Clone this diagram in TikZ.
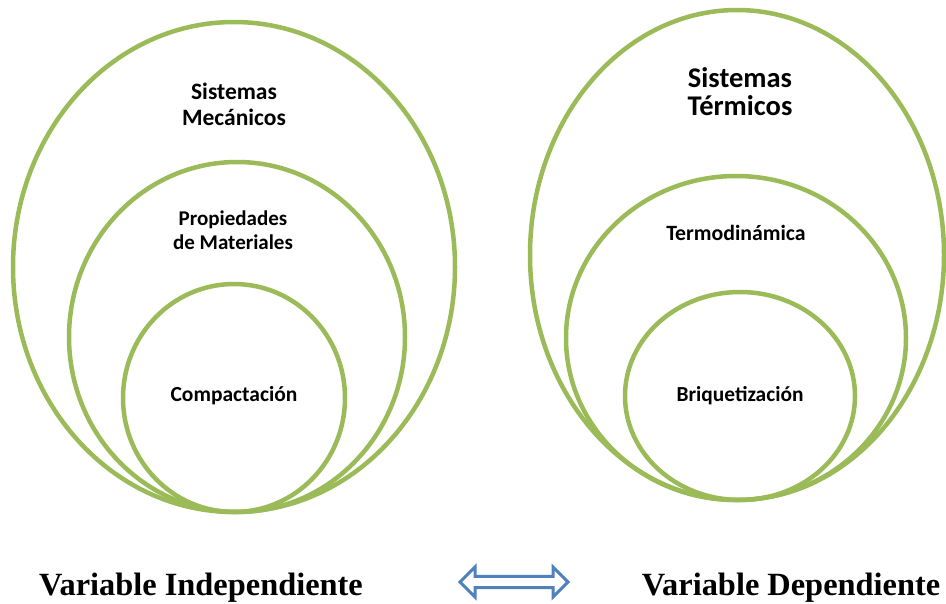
\documentclass[tikz,border=0pt]{standalone}
\usepackage{fontspec}
\setmainfont{Carlito}
\newfontfamily\timesfont{Liberation Serif}
\usetikzlibrary{shapes.arrows}
\definecolor{ringgreen}{HTML}{9BBB59}
\definecolor{arrowblue}{HTML}{4F81BD}
\begin{document}
\begin{tikzpicture}[x=1pt,y=-1pt,
  ring/.style={draw=ringgreen,line width=4.5pt},
  lbl/.style={align=center, inner sep=0pt},
  bottomlbl/.style={font=\timesfont\bfseries\fontsize{32.4}{36}\selectfont, anchor=base}]
\useasboundingbox (0,0) rectangle (946,603);
% left group
\draw[ring] (234,267) ellipse [x radius=221, y radius=245];
\draw[ring] (237,337) ellipse [x radius=168, y radius=175];
\draw[ring] (234,398) ellipse [x radius=111, y radius=114];
% right group
\draw[ring] (737,255) ellipse [x radius=207, y radius=245];
\draw[ring] (736,338) ellipse [x radius=170, y radius=162];
\draw[ring] (740,396) ellipse [x radius=115, y radius=104];
% labels
\node[lbl, font=\bfseries\fontsize{23.5}{26}\selectfont] (sm) at (234,104) {Sistemas\\Mecánicos};
\node[lbl, font=\bfseries\fontsize{21}{24}\selectfont] (pm) at (233,230) {Propiedades\\de Materiales};
\node[lbl, font=\bfseries\fontsize{21.5}{24}\selectfont] (co) at (234,396) {Compactación};
\node[lbl, font=\bfseries\fontsize{28.5}{28}\selectfont] (st) at (740,92) {Sistemas\\Térmicos};
\node[lbl, font=\bfseries\fontsize{21.8}{24}\selectfont] (te) at (736,233) {Termodinámica};
\node[lbl, font=\bfseries\fontsize{21.4}{24}\selectfont] (br) at (740,396) {Briquetización};
\node[bottomlbl] (vi) at (201,595) {Variable Independiente};
\node[bottomlbl] (vd) at (791,595) {Variable Dependiente};
\node[double arrow, draw=arrowblue, fill=white, line width=3pt,
  minimum width=30pt, double arrow head extend=6pt, minimum height=108pt,
  inner sep=2pt] (ar) at (514,582) {};
\end{tikzpicture}
\end{document}
